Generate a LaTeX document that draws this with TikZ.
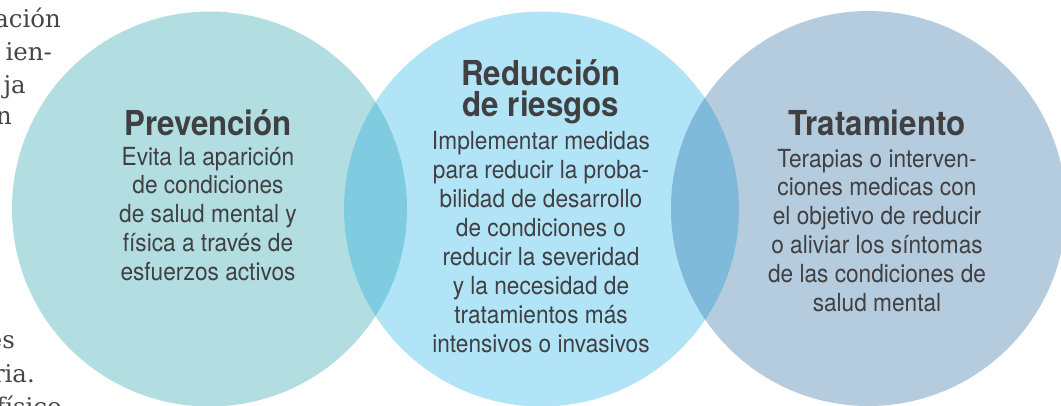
\documentclass[tikz,border=0pt]{standalone}
\usepackage{fontspec}
\setmainfont{TeX Gyre Heros}[FakeStretch=0.91]
\newfontfamily\sidefont{DejaVu Serif}
\usepackage{tikz}

\definecolor{prevfill}{RGB}{178,222,226}
\definecolor{redfill}{RGB}{178,228,248}
\definecolor{tratfill}{RGB}{181,204,222}
\definecolor{lensleft}{RGB}{127,204,225}
\definecolor{lensright}{RGB}{127,186,219}
\definecolor{txtgray}{RGB}{64,64,66}
\definecolor{sidegray}{RGB}{70,70,70}

\begin{document}
\begin{tikzpicture}[x=1bp, y=-1bp,
    every node/.style={inner sep=0pt, text=txtgray},
    ring/.style={circle, minimum size=395bp, draw=none},
    title/.style={font=\fontsize{34.5}{31}\selectfont\bfseries, align=center, anchor=base},
    body/.style={font=\fontsize{25}{28.8}\selectfont, align=center, anchor=base},
    side/.style={font=\sidefont\fontsize{24.5}{33}\selectfont, text=sidegray, anchor=base east}]
    \useasboundingbox (0,0) rectangle (1061,405);
    \clip (0,0) rectangle (1061,405);

    % Circles
    \node[ring, fill=prevfill] (prev) at (209.5,209) {};
    \node[ring, fill=redfill] (red) at (541.5,209) {};
    \node[ring, fill=tratfill] (trat) at (868.5,208.5) {};

    % Overlaps
    \begin{scope}
        \clip (prev.center) circle (197.5bp);
        \fill[lensleft] (red.center) circle (197.5bp);
    \end{scope}
    \begin{scope}
        \clip (trat.center) circle (197.5bp);
        \fill[lensright] (red.center) circle (197.5bp);
    \end{scope}

    % Texts (anchor=base is the last line)
    \node[title] (prevtitle) at (208,135) {Prevención};
    \node[body] (prevtext) at (208,280) {Evita la aparición\\de condiciones\\de salud mental y\\física a través de\\esfuerzos activos};

    \node[title] (redtitle) at (541,116) {Reducción\\de riesgos};
    \node[body, font=\fontsize{25}{29.1}\selectfont] (redtext) at (541,352) {Implementar medidas\\para reducir la proba-\\bilidad de desarrollo\\de condiciones o\\reducir la severidad\\y la necesidad de\\tratamientos más\\intensivos o invasivos};

    \node[title] (trattitle) at (877,135) {Tratamiento};
    \node[body, font=\fontsize{25}{29}\selectfont] (trattext) at (877,311.5) {Terapias o interven-\\ciones medicas con\\el objetivo de reducir\\o aliviar los síntomas\\de las condiciones de\\salud mental};

    % Page text cut off at the left
    \node[side] (s1) at (61,27) {ación};
    \node[side] (s2) at (52,60) {ien-};
    \node[side] (s3) at (26,93) {ja};
    \node[side] (s4) at (12,124) {n};
    \node[side] (s5) at (15,348) {es};
    \node[side] (s6) at (35,382) {ria.};
    \node[side] (s7) at (62,415) {físico};
\end{tikzpicture}
\end{document}
